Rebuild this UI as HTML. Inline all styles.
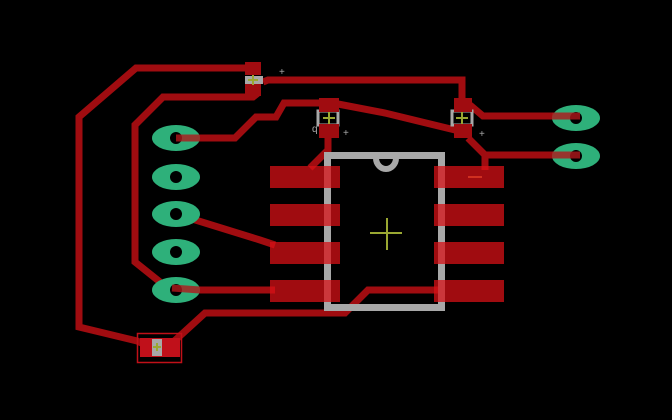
<!DOCTYPE html>
<html><head><meta charset="utf-8"><style>html,body{margin:0;padding:0;background:#000}svg{display:block}</style></head>
<body>
<svg width="672" height="420" viewBox="0 0 672 420">
<rect width="672" height="420" fill="#000"/>
<g fill="none" stroke="#a00c10" stroke-width="7" stroke-linejoin="miter">
<polyline points="253,68 136,68 79,117 79,327 137,341 150,347"/>
<polyline points="258,93 253,97 163,97 135,125 135,262 170,290 275,290"/>
<polyline points="176,138 235,138 256,117 276,117 284,103 330,103"/>
<polyline points="263,82 268,80 462,80 462,103"/>
<polyline points="338,104 385,113 455,130"/>
<polyline points="328,138 328,150 310,168"/>
<polyline points="470,105 483,116 576,116"/>
<polyline points="468,138 485,155 576,155"/>
<polyline points="485,155 485,170"/>
<polyline points="176,214 260,240 275,245"/>
<polyline points="170,345 205,313 345,313 368,290 440,290"/>
</g>
<g fill="#2eb07a">
<g><ellipse cx="176" cy="138" rx="24" ry="13"/><circle cx="176" cy="138" r="6" fill="#000"/></g>
<g><ellipse cx="176" cy="177" rx="24" ry="13"/><circle cx="176" cy="177" r="6" fill="#000"/></g>
<g><ellipse cx="176" cy="214" rx="24" ry="13"/><circle cx="176" cy="214" r="6" fill="#000"/></g>
<g><ellipse cx="176" cy="252" rx="24" ry="13"/><circle cx="176" cy="252" r="6" fill="#000"/></g>
<g><ellipse cx="176" cy="290" rx="24" ry="13"/><circle cx="176" cy="290" r="6" fill="#000"/></g>
</g>
<g fill="#2eb07a">
<g><ellipse cx="576" cy="118" rx="24" ry="13"/><circle cx="576" cy="118" r="6" fill="#000"/></g>
<g><ellipse cx="576" cy="156" rx="24" ry="13"/><circle cx="576" cy="156" r="6" fill="#000"/></g>
</g>
<g stroke="#b0181c" stroke-width="7">
<line x1="176" y1="138" x2="200" y2="138" stroke-opacity=".8"/>
<line x1="172" y1="288" x2="200" y2="290" stroke-opacity=".8"/>
<line x1="552" y1="116" x2="580" y2="116" stroke-opacity=".8"/>
<line x1="552" y1="155" x2="580" y2="155" stroke-opacity=".8"/>
</g>
<g fill="none" stroke="#a8a8a8" stroke-width="7">
<rect x="327.5" y="155.5" width="114" height="152"/>
<path d="M376,158 A10,11 0 0 0 396,158" stroke-width="6"/>
</g>
<g fill="rgb(216,16,22)" fill-opacity=".74">
<rect x="270" y="166" width="70" height="22"/><rect x="270" y="204" width="70" height="22"/>
<rect x="270" y="242" width="70" height="22"/><rect x="270" y="280" width="70" height="22"/>
<rect x="434" y="166" width="70" height="22"/><rect x="434" y="204" width="70" height="22"/>
<rect x="434" y="242" width="70" height="22"/><rect x="434" y="280" width="70" height="22"/>
</g>
<line x1="468" y1="177" x2="482" y2="177" stroke="#d03020" stroke-width="2"/>
<g stroke="#9aa832" stroke-width="2">
<line x1="370" y1="233" x2="402" y2="233"/><line x1="387" y1="218" x2="387" y2="250"/>
</g>
<g>
<rect x="318" y="111" width="20" height="14" fill="none" stroke="#a8a8a8" stroke-width="3"/>
<rect x="319" y="98" width="20" height="14" fill="#a00c10"/><rect x="319" y="124" width="20" height="14" fill="#a00c10"/>
<path d="M323,118 H335 M329,112 V124" stroke="#9aa832" stroke-width="2"/>
</g>
<g>
<rect x="452" y="111" width="20" height="14" fill="none" stroke="#a8a8a8" stroke-width="3"/>
<rect x="454" y="98" width="18" height="14" fill="#a00c10"/><rect x="454" y="124" width="18" height="14" fill="#a00c10"/>
<path d="M456,118 H468 M462,112 V124" stroke="#9aa832" stroke-width="2"/>
</g>
<g>
<rect x="245" y="76" width="18" height="8" fill="#a8a8a8"/>
<rect x="245" y="62" width="16" height="13" fill="#a00c10"/><rect x="245" y="84" width="16" height="12" fill="#a00c10"/>
<path d="M248,80 H258 M253,75 V85" stroke="#9aa832" stroke-width="2"/>
</g>
<g>
<rect x="137.5" y="333.5" width="44" height="29" fill="none" stroke="#c01018" stroke-width="1.5"/>
<rect x="140" y="338" width="40" height="19" fill="#c0101a"/>
<rect x="152" y="339" width="10" height="17" fill="#a8a8a8"/>
<path d="M153,347 H161 M157,343 V351" stroke="#9aa832" stroke-width="2"/>
</g>
<g fill="#a8a8a8" font-family="Liberation Sans, sans-serif" font-size="10">
<text x="279" y="75">+</text><text x="312" y="132">q</text><text x="343" y="136">+</text><text x="479" y="137">+</text>
</g>
</svg>
</body></html>
